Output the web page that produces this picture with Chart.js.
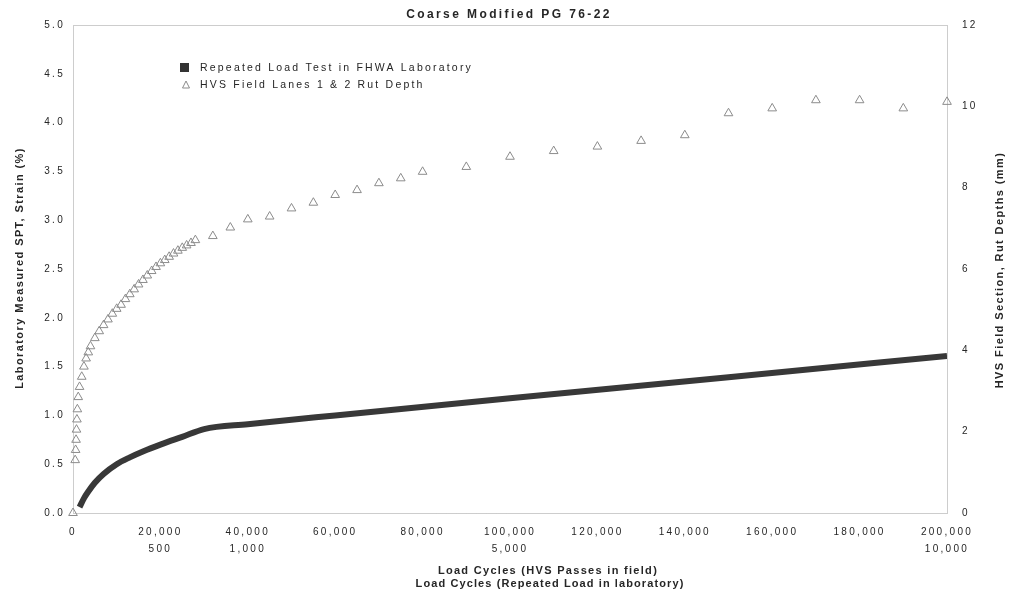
<!DOCTYPE html>
<html>
<head>
<meta charset="utf-8">
<script src="https://cdn.jsdelivr.net/npm/chart.js@4"></script>
<style>
  html, body { margin: 0; padding: 0; background: #fff; }
  #wrap { width: 1014px; height: 598px; position: relative; }
</style>
</head>
<body>
<div id="wrap"><canvas id="chart"></canvas></div>
<script>
// x ticks (HVS passes) and the matching lab cycle labels
const xTicks = [0, 20000, 40000, 60000, 80000, 100000, 120000, 140000, 160000, 180000, 200000];
const labTickLabels = ["", "500", "1,000", "", "", "5,000", "", "", "", "", "10,000"];

// repeated load test in lab (strain %)
const labPasses = [1500, 2500, 3500, 5000, 7000, 10000, 13000, 16000, 20000, 25000, 30000, 40000, 60000, 100000, 150000, 200000];
const labStrain = [0.06, 0.15, 0.22, 0.31, 0.4, 0.5, 0.57, 0.63, 0.7, 0.78, 0.86, 0.91, 1.0, 1.175, 1.39, 1.61];

// HVS field rut depth (mm)
const hvsPasses = [0, 500, 600, 700, 800, 900, 1000, 1200, 1500, 2000, 2500, 3000, 3500, 4000,
    5000, 6000, 7000, 8000, 9000, 10000, 11000, 12000, 13000, 14000, 15000, 16000, 17000, 18000,
    19000, 20000, 21000, 22000, 23000, 24000, 25000, 26000, 27000, 28000,
    32000, 36000, 40000, 45000, 50000, 55000, 60000, 65000, 70000, 75000, 80000,
    90000, 100000, 110000, 120000, 130000, 140000, 150000, 160000, 170000, 180000, 190000, 200000];
const hvsRut = [0, 1.3, 1.55, 1.8, 2.05, 2.3, 2.55, 2.85, 3.1, 3.35, 3.6, 3.8, 3.95, 4.1,
    4.3, 4.47, 4.62, 4.76, 4.9, 5.02, 5.12, 5.26, 5.38, 5.5, 5.62, 5.73, 5.84, 5.95,
    6.05, 6.14, 6.22, 6.3, 6.38, 6.45, 6.52, 6.58, 6.64, 6.71,
    6.81, 7.02, 7.22, 7.29, 7.49, 7.63, 7.82, 7.94, 8.11, 8.23, 8.39,
    8.51, 8.76, 8.9, 9.01, 9.15, 9.29, 9.83, 9.95, 10.15, 10.15, 9.95, 10.11];

const FONT = "'Liberation Sans', Arial, sans-serif";
const TXT = "#262626";

function drawText(ctx, str, x, y, font, spacing, align, rot) {
    ctx.save();
    ctx.font = font;
    ctx.letterSpacing = spacing + "px";
    ctx.fillStyle = TXT;
    ctx.textBaseline = "middle";
    ctx.textAlign = align;
    ctx.translate(x, y);
    if (rot) ctx.rotate(rot);
    ctx.fillText(str, 0, 0);
    ctx.restore();
}

// frame, titles and legend
const decor = {
    id: "decor",
    beforeDraw(chart) {
        const ctx = chart.ctx;
        const a = chart.chartArea;
        ctx.save();
        ctx.fillStyle = "#fff";
        ctx.fillRect(0, 0, chart.width, chart.height);
        ctx.strokeStyle = "#9a9a9a";
        ctx.lineWidth = 1;
        ctx.setLineDash([1, 1]);
        ctx.strokeRect(Math.round(a.left) + 0.5, Math.round(a.top) + 0.5,
            Math.round(a.right - a.left), Math.round(a.bottom - a.top));
        ctx.restore();
        ctx.letterSpacing = "2.3px";
    },
    afterDraw(chart) {
        const ctx = chart.ctx;
        const bold11 = "bold 11px " + FONT;
        drawText(ctx, "Coarse Modified PG 76-22", 509, 15, "bold 12px " + FONT, 2.4, "center");
        drawText(ctx, "Laboratory Measured SPT, Strain (%)", 20, 268, bold11, 1.4, "center", -Math.PI / 2);
        drawText(ctx, "HVS Field Section, Rut Depths (mm)", 1000, 270, bold11, 1.4, "center", -Math.PI / 2);
        drawText(ctx, "Load Cycles (HVS Passes in field)", 548, 571, bold11, 1.3, "center");
        drawText(ctx, "Load Cycles (Repeated Load in laboratory)", 550, 584, bold11, 1.1, "center");

        // legend
        ctx.save();
        ctx.fillStyle = "#333";
        ctx.fillRect(180, 63, 9, 9);
        ctx.strokeStyle = "#8c8c8c";
        ctx.lineWidth = 1;
        ctx.beginPath();
        ctx.moveTo(186, 81);
        ctx.lineTo(189.5, 88);
        ctx.lineTo(182.5, 88);
        ctx.closePath();
        ctx.stroke();
        ctx.restore();
        drawText(ctx, "Repeated Load Test in FHWA Laboratory", 200, 68, "10.5px " + FONT, 2.2, "left");
        drawText(ctx, "HVS Field Lanes 1 & 2 Rut Depth", 200, 85, "10.5px " + FONT, 2.2, "left");
    }
};

new Chart(document.getElementById("chart"), {
    type: "scatter",
    data: {
        datasets: [
            {
                label: "Repeated Load Test in FHWA Laboratory",
                data: labPasses.map((x, i) => ({ x: x, y: labStrain[i] })),
                showLine: true,
                borderColor: "#383838",
                borderWidth: 6,
                pointRadius: 0,
                cubicInterpolationMode: "monotone",
                yAxisID: "y"
            },
            {
                label: "HVS Field Lanes 1 & 2 Rut Depth",
                data: hvsPasses.map((x, i) => ({ x: x, y: hvsRut[i] })),
                showLine: false,
                clip: false,
                pointStyle: "triangle",
                pointRadius: 5,
                borderWidth: 1,
                borderColor: "#8c8c8c",
                backgroundColor: "rgba(255,255,255,0)",
                yAxisID: "y2"
            }
        ]
    },
    options: {
        responsive: true,
        maintainAspectRatio: false,
        animation: false,
        layout: { padding: { top: 25, left: 0, right: 0, bottom: 0 } },
        plugins: {
            legend: { display: false },
            tooltip: { enabled: false }
        },
        scales: {
            x: {
                type: "linear",
                min: 0,
                max: 200000,
                afterBuildTicks: (s) => { s.ticks = xTicks.map(v => ({ value: v })); },
                afterFit: (s) => { s.height = 85; },
                grid: { display: false, drawTicks: false },
                border: { display: false },
                ticks: {
                    autoSkip: false,
                    maxRotation: 0,
                    padding: 10,
                    color: TXT,
                    font: { family: FONT, size: 10, lineHeight: 1.75 },
                    callback: (v) => {
                        const i = xTicks.indexOf(v);
                        const top = v.toLocaleString("en-US");
                        return labTickLabels[i] ? [top, labTickLabels[i]] : top;
                    }
                }
            },
            y: {
                position: "left",
                min: 0,
                max: 5,
                afterFit: (s) => { s.width = 73; },
                grid: { display: false, drawTicks: false },
                border: { display: false },
                ticks: {
                    stepSize: 0.5,
                    padding: 8,
                    color: TXT,
                    font: { family: FONT, size: 10 },
                    callback: (v) => v.toFixed(1)
                }
            },
            y2: {
                position: "right",
                min: 0,
                max: 12,
                afterFit: (s) => { s.width = 67; },
                grid: { display: false, drawTicks: false },
                border: { display: false },
                ticks: {
                    stepSize: 2,
                    padding: 15,
                    color: TXT,
                    font: { family: FONT, size: 10 }
                }
            }
        }
    },
    plugins: [decor]
});
</script>
</body>
</html>
